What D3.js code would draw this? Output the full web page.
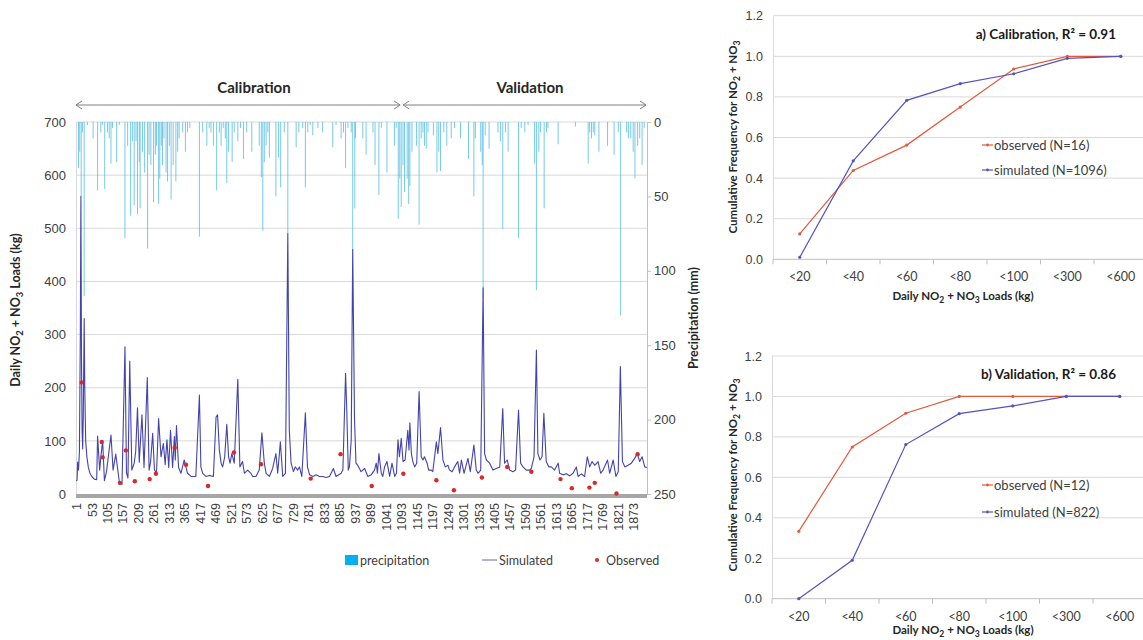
<!DOCTYPE html>
<html>
<head>
<meta charset="utf-8">
<script src="https://cdn.jsdelivr.net/npm/d3@7"></script>
<style>
  body { margin: 0; background: #fff; }
  svg { font-family: Lato, "Open Sans", sans-serif; }
</style>
</head>
<body>
<svg id="chart" width="1143" height="640"></svg>
<script>
// ---------- time series: daily loads and precipitation ----------
const xTickDays = d3.range(1, 1874, 52);
const loadTicks = [0, 100, 200, 300, 400, 500, 600, 700];
const rainTicks = [0, 50, 100, 150, 200, 250];
const calibrationEnd = 1096;
const lastDay = 1918;

// [day, precipitation mm]
const precipitation = [
  [9,31],[13,20],[18,50],[22,7],[28,117],[39,2],[58,11],[73,46],[84,7],[90,2],[97,45],[106,7],
  [112,11],[118,28],[123,4],[137,27],[146,2],[165,78],[174,16],[184,63],[190,13],[196,56],[202,13],
  [207,62],[213,27],[216,58],[224,20],[231,34],[241,85],[246,22],[252,29],[261,54],[267,22],[271,16],
  [278,55],[282,38],[287,16],[291,29],[296,11],[303,34],[308,40],[314,16],[320,52],[327,29],[336,40],
  [342,20],[347,11],[359,7],[368,20],[375,7],[383,4],[415,77],[426,7],[440,16],[448,4],[454,7],
  [462,16],[473,46],[482,7],[488,16],[495,4],[502,11],[507,41],[513,20],[525,27],[532,7],[544,13],
  [553,4],[563,25],[574,7],[591,20],[616,16],[623,37],[628,73],[633,27],[639,16],[645,7],[650,24],
  [672,50],[681,24],[688,44],[700,7],[712,75],[740,17],[749,7],[762,4],[771,44],[779,7],[787,2],
  [796,9],[813,4],[829,7],[863,17],[874,2],[891,11],[899,7],[906,31],[914,4],[925,7],[930,87],
  [937,58],[939,11],[964,11],[975,22],[998,7],[1005,29],[1018,49],[1026,4],[1045,34],[1070,16],
  [1076,4],[1083,65],[1088,38],[1093,57],[1099,29],[1104,47],[1113,38],[1118,55],[1122,43],[1129,20],
  [1144,16],[1153,69],[1160,11],[1166,7],[1171,16],[1177,18],[1183,7],[1201,9],[1213,34],[1219,20],
  [1225,33],[1236,7],[1246,16],[1261,11],[1272,4],[1292,11],[1319,25],[1337,50],[1342,11],[1360,20],
  [1365,29],[1368,118],[1375,9],[1388,18],[1418,7],[1426,13],[1434,72],[1443,7],[1452,20],[1487,78],
  [1496,4],[1508,7],[1519,2],[1541,28],[1547,113],[1555,20],[1561,7],[1573,58],[1581,7],[1586,4],
  [1620,15],[1678,3],[1721,28],[1726,7],[1732,11],[1738,7],[1743,9],[1757,20],[1786,16],[1808,22],
  [1822,7],[1830,130],[1850,7],[1856,11],[1864,11],[1872,20],[1878,38],[1887,16],[1894,11],[1902,29],
  [1909,4]
];

// [day, simulated load kg]
const simulated = [
  [1,25],[4,26],[6,60],[9,45],[12,80],[15,300],[17,560],[19,250],[21,120],[23,85],[25,150],[28,330],
  [30,200],[33,100],[37,70],[42,50],[48,38],[55,32],[62,28],[70,27],[73,109],[80,45],[84,70],[90,100],
  [96,25],[103,42],[118,111],[125,45],[134,75],[146,23],[155,18],[165,277],[170,40],[175,30],[181,250],
  [188,45],[196,58],[201,80],[207,162],[213,60],[222,149],[229,50],[240,219],[246,45],[251,60],[258,114],
  [264,45],[271,40],[278,142],[286,70],[294,95],[300,55],[306,102],[312,50],[318,120],[325,50],[331,108],
  [334,64],[338,129],[345,50],[353,39],[364,64],[375,39],[387,33],[403,33],[415,186],[420,51],[426,39],
  [437,33],[448,35],[462,33],[471,145],[476,149],[482,83],[488,58],[493,51],[500,70],[507,131],[513,70],
  [518,58],[524,76],[532,58],[544,216],[551,51],[560,61],[566,39],[577,45],[588,39],[594,33],[605,33],
  [616,45],[625,115],[633,58],[639,39],[650,33],[661,48],[672,76],[678,39],[687,98],[695,33],[704,39],
  [712,490],[717,120],[723,58],[731,42],[737,51],[745,45],[751,51],[759,33],[771,153],[778,51],[785,36],
  [796,33],[807,36],[818,33],[829,33],[841,31],[852,33],[865,48],[874,33],[891,39],[897,45],[906,227],
  [910,158],[915,45],[919,51],[925,102],[930,460],[933,300],[936,140],[941,58],[947,54],[958,42],
  [970,48],[981,33],[992,36],[1003,45],[1009,58],[1013,39],[1018,76],[1026,39],[1031,33],[1037,51],
  [1045,61],[1054,33],[1062,58],[1071,33],[1077,39],[1082,102],[1087,70],[1093,105],[1099,61],[1106,64],
  [1115,120],[1119,83],[1122,134],[1127,76],[1132,61],[1138,51],[1145,58],[1153,193],[1160,70],[1166,64],
  [1171,70],[1180,58],[1185,45],[1194,45],[1199,42],[1211,98],[1216,76],[1225,125],[1233,64],[1241,51],
  [1250,54],[1255,45],[1264,42],[1272,51],[1283,61],[1289,39],[1295,64],[1304,39],[1317,67],[1325,42],
  [1337,92],[1345,45],[1351,39],[1360,45],[1368,388],[1373,76],[1379,64],[1390,58],[1401,45],[1412,48],
  [1424,51],[1434,161],[1440,58],[1449,64],[1457,45],[1468,42],[1477,45],[1487,158],[1494,58],[1502,51],
  [1513,45],[1524,45],[1530,48],[1539,70],[1547,271],[1552,76],[1559,64],[1566,70],[1572,152],[1580,61],
  [1589,51],[1597,51],[1608,45],[1620,58],[1625,39],[1636,36],[1648,38],[1659,34],[1670,39],[1681,51],
  [1687,33],[1698,38],[1709,33],[1718,70],[1726,51],[1734,61],[1743,54],[1754,61],[1763,39],[1771,45],
  [1786,64],[1793,39],[1805,64],[1814,33],[1822,42],[1829,240],[1836,61],[1844,51],[1855,54],[1866,58],
  [1877,67],[1886,76],[1894,61],[1902,70],[1911,51],[1918,50]
];

// [day, observed load kg]
const observedCal = [
  [20,210],[87,98],[90,69],[148,21],[168,82],[198,24],[248,28],[269,38],[332,87],[370,55],
  [444,15],[531,78],[622,56],[789,29],[889,75],[994,15]
];
const observedVal = [
  [1100,38],[1211,26],[1270,7],[1364,31],[1449,51],[1530,42],[1628,28],[1666,11],[1725,12],
  [1743,21],[1816,1],[1887,75]
];

// ---------- cumulative frequency panels ----------
const loadClasses = ["<20", "<40", "<60", "<80", "<100", "<300", "<600"];
const freqTicks = [0, 0.2, 0.4, 0.6, 0.8, 1.0, 1.2];
const calObserved  = [0.125, 0.4375, 0.5625, 0.75, 0.9375, 1, 1];
const calSimulated = [0.01, 0.485, 0.783, 0.865, 0.914, 0.99, 1];
const valObserved  = [0.333, 0.75, 0.917, 1, 1, 1, 1];
const valSimulated = [0, 0.19, 0.762, 0.915, 0.953, 1, 1];

const svg = d3.select("#chart");
const TICK = "#404040", GRID = "#d9d9d9", AXIS = "#bfbfbf";
const OBS = "#e25a3c", SIM = "#5454bd";

// text with subscript runs: parts starting with "_" are subscripts
function richText(g, parts) {
  let shift = 0;
  parts.forEach(p => {
    const sub = p.startsWith("_");
    const s = sub ? p.slice(1) : p;
    const dy = (sub ? 3 : 0) - shift;
    shift = sub ? 3 : 0;
    g.append("tspan").attr("dy", dy).attr("font-size", sub ? "75%" : null).text(s);
  });
  return g;
}

// ================= left: daily time series =================
const x = d3.scaleLinear().domain([0.5, lastDay + 0.5]).range([76, 647]);
const yLoad = d3.scaleLinear().domain([0, 700]).range([494, 122]);
const yRain = d3.scaleLinear().domain([0, 250]).range([122, 494]);

const ts = svg.append("g");

// horizontal gridlines
ts.append("g").selectAll("line").data(loadTicks.filter(v => v > 0)).join("line")
  .attr("x1", 76).attr("x2", 647)
  .attr("y1", d => yLoad(d)).attr("y2", d => yLoad(d))
  .attr("stroke", GRID).attr("stroke-width", 1);

// left axis
const axL = ts.append("g").attr("transform", "translate(76,0)")
  .call(d3.axisLeft(yLoad).tickValues(loadTicks).tickSize(0).tickPadding(10));
axL.select(".domain").attr("stroke", GRID);
axL.selectAll("text").attr("fill", TICK).attr("font-size", 13);

// right axis (precipitation, inverted)
const axR = ts.append("g").attr("transform", "translate(647,0)")
  .call(d3.axisRight(yRain).tickValues(rainTicks).tickSize(4).tickPadding(3));
axR.select(".domain").attr("stroke", AXIS);
axR.selectAll(".tick line").attr("stroke", AXIS);
axR.selectAll("text").attr("fill", TICK).attr("font-size", 13);

// precipitation bars hanging from the top
ts.append("g").selectAll("line").data(precipitation).join("line")
  .attr("x1", d => x(d[0])).attr("x2", d => x(d[0]))
  .attr("y1", yRain(0)).attr("y2", d => yRain(d[1]))
  .attr("stroke", "#3cb3de").attr("stroke-width", 1).attr("stroke-opacity", 0.7);

// simulated loads
ts.append("path").datum(simulated)
  .attr("d", d3.line().x(d => x(d[0])).y(d => yLoad(d[1])))
  .attr("fill", "none").attr("stroke", "#4343ab").attr("stroke-width", 1.1)
  .attr("stroke-linejoin", "round");

// bottom axis band and rotated day labels
ts.append("rect").attr("x", 76).attr("y", 494).attr("width", 571).attr("height", 4)
  .attr("fill", "#a6a6a6");
const axB = ts.append("g").attr("transform", "translate(0,498)")
  .call(d3.axisBottom(x).tickValues(xTickDays).tickSize(0).tickFormat(d3.format("d")));
axB.select(".domain").remove();
axB.selectAll("text")
  .attr("transform", "rotate(-90)")
  .attr("x", -5).attr("y", 0).attr("dy", "0.35em")
  .attr("text-anchor", "end")
  .attr("fill", TICK).attr("font-size", 12.5);

// observed loads
ts.append("g").selectAll("circle").data(observedCal.concat(observedVal)).join("circle")
  .attr("cx", d => x(d[0])).attr("cy", d => yLoad(d[1])).attr("r", 2.2)
  .attr("fill", "#d9282b");

// period arrows and headings
const arrowY = 105;
function periodArrow(x0, x1) {
  const g = ts.append("g").attr("stroke", "#808080").attr("fill", "none").attr("stroke-width", 1);
  g.append("line").attr("x1", x0).attr("x2", x1).attr("y1", arrowY).attr("y2", arrowY);
  g.append("path").attr("d", `M${x0 + 6},${arrowY - 4}L${x0},${arrowY}L${x0 + 6},${arrowY + 4}`);
  g.append("path").attr("d", `M${x1 - 6},${arrowY - 4}L${x1},${arrowY}L${x1 - 6},${arrowY + 4}`);
}
periodArrow(76, x(calibrationEnd) - 2);
periodArrow(x(calibrationEnd) + 1, 646);
ts.append("text").attr("x", 254).attr("y", 93).attr("text-anchor", "middle")
  .attr("font-weight", "bold").attr("font-size", 15).attr("fill", "#262626").text("Calibration");
ts.append("text").attr("x", 530).attr("y", 93).attr("text-anchor", "middle")
  .attr("font-weight", "bold").attr("font-size", 15).attr("fill", "#262626").text("Validation");

// axis titles
richText(ts.append("text").attr("transform", "translate(20,310) rotate(-90)")
  .attr("text-anchor", "middle").attr("font-weight", "bold").attr("font-size", 12.5).attr("fill", "#262626"),
  ["Daily NO", "_2", " + NO", "_3", " Loads (kg)"]);
ts.append("text").attr("transform", "translate(698,318) rotate(-90)")
  .attr("text-anchor", "middle").attr("font-weight", "bold").attr("font-size", 12.5).attr("fill", "#262626")
  .text("Precipitation (mm)");

// legend
const lg = ts.append("g").attr("font-size", 12.5).attr("fill", TICK);
lg.append("rect").attr("x", 345).attr("y", 555).attr("width", 13).attr("height", 10).attr("fill", "#00b0f0");
lg.append("text").attr("x", 360).attr("y", 565).text("precipitation");
lg.append("line").attr("x1", 482).attr("x2", 497).attr("y1", 560).attr("y2", 560)
  .attr("stroke", "#8080c0").attr("stroke-width", 1.2);
lg.append("text").attr("x", 499).attr("y", 565).text("Simulated");
lg.append("circle").attr("cx", 597).attr("cy", 560).attr("r", 2).attr("fill", "#d9282b");
lg.append("text").attr("x", 606).attr("y", 565).text("Observed");

// ================= right: cumulative frequency panels =================
function cdfPanel(cfg) {
  const g = svg.append("g");
  const xb = d3.scaleBand().domain(loadClasses).range([cfg.x0, cfg.x0 + 7 * 53.5]);
  const y = d3.scaleLinear().domain([0, 1.2]).range([cfg.yBottom, cfg.yTop]);
  const cx = d => xb(d) + xb.bandwidth() / 2;

  g.append("g").selectAll("line").data(freqTicks.filter(v => v > 0)).join("line")
    .attr("x1", cfg.x0).attr("x2", 1143)
    .attr("y1", d => y(d)).attr("y2", d => y(d))
    .attr("stroke", GRID);

  const ay = g.append("g").attr("transform", `translate(${cfg.x0},0)`)
    .call(d3.axisLeft(y).tickValues(freqTicks).tickFormat(d3.format(".1f")).tickSize(0).tickPadding(10));
  ay.select(".domain").attr("stroke", GRID);
  ay.selectAll("text").attr("fill", TICK).attr("font-size", 12.5);

  g.append("line").attr("x1", cfg.x0).attr("x2", 1143)
    .attr("y1", cfg.yBottom).attr("y2", cfg.yBottom).attr("stroke", AXIS);
  g.append("g").selectAll("line").data(d3.range(0, 7)).join("line")
    .attr("x1", i => cfg.x0 + i * xb.step()).attr("x2", i => cfg.x0 + i * xb.step())
    .attr("y1", cfg.yBottom).attr("y2", cfg.yBottom + 5).attr("stroke", AXIS);
  g.append("g").selectAll("text").data(loadClasses).join("text")
    .attr("x", cx).attr("y", cfg.yBottom + 22).attr("text-anchor", "middle")
    .attr("fill", TICK).attr("font-size", 12.5).text(d => d);

  const series = [
    { vals: cfg.obs, color: OBS, label: cfg.obsLabel, ly: cfg.legendY },
    { vals: cfg.sim, color: SIM, label: cfg.simLabel, ly: cfg.legendY + cfg.legendGap }
  ];
  const line = d3.line().x((d, i) => cx(loadClasses[i])).y(d => y(d));
  series.forEach(s => {
    g.append("path").datum(s.vals).attr("d", line)
      .attr("fill", "none").attr("stroke", s.color).attr("stroke-width", 1.2);
    g.append("g").selectAll("circle").data(s.vals).join("circle")
      .attr("cx", (d, i) => cx(loadClasses[i])).attr("cy", d => y(d)).attr("r", 1.6)
      .attr("fill", s.color);
    g.append("line").attr("x1", 982).attr("x2", 993).attr("y1", s.ly).attr("y2", s.ly)
      .attr("stroke", s.color).attr("stroke-width", 1.2);
    g.append("circle").attr("cx", 987.5).attr("cy", s.ly).attr("r", 1.4).attr("fill", s.color);
    g.append("text").attr("x", 994).attr("y", s.ly + 4.5).attr("fill", TICK).attr("font-size", 13)
      .text(s.label);
  });

  g.append("text").attr("x", 1116).attr("y", cfg.titleY).attr("text-anchor", "end")
    .attr("font-weight", "bold").attr("font-size", 13.5).attr("fill", "#1a1a1a").text(cfg.title);

  richText(g.append("text").attr("x", 963).attr("y", cfg.yBottom + cfg.xTitleOffset).attr("text-anchor", "middle")
    .attr("font-weight", "bold").attr("font-size", 11.5).attr("fill", "#262626"),
    ["Daily NO", "_2", " + NO", "_3", " Loads (kg)"]);
  richText(g.append("text").attr("transform", `translate(737,${cfg.yTitle}) rotate(-90)`)
    .attr("text-anchor", "middle").attr("font-weight", "bold").attr("font-size", 11.5).attr("fill", "#262626"),
    ["Cumulative Frequency for NO", "_2", " + NO", "_3"]);
}

cdfPanel({
  x0: 773, yTop: 15.7, yBottom: 259.3, titleY: 39, yTitle: 137, xTitleOffset: 41,
  title: "a) Calibration, R² = 0.91",
  obs: calObserved, sim: calSimulated,
  obsLabel: "observed (N=16)", simLabel: "simulated (N=1096)",
  legendY: 145, legendGap: 25
});
cdfPanel({
  x0: 772, yTop: 356, yBottom: 598.7, titleY: 379, yTitle: 475, xTitleOffset: 35.5,
  title: "b) Validation, R² = 0.86",
  obs: valObserved, sim: valSimulated,
  obsLabel: "observed (N=12)", simLabel: "simulated (N=822)",
  legendY: 485, legendGap: 27
});
</script>
</body>
</html>
